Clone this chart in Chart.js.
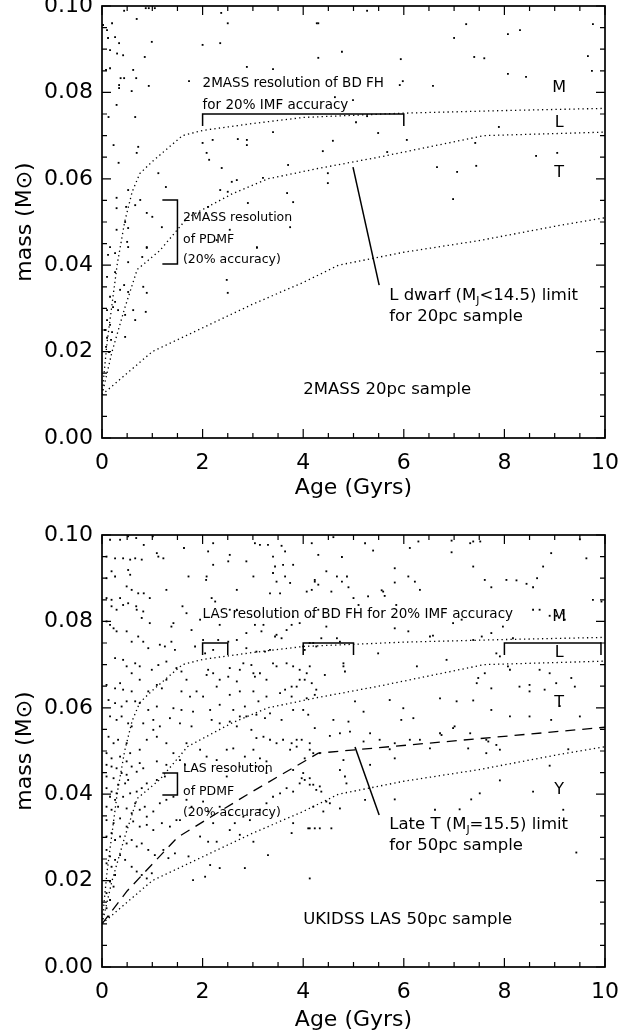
<!DOCTYPE html>
<html>
<head>
<meta charset="utf-8">
<script src="https://cdn.jsdelivr.net/npm/chart.js@4.4.1/dist/chart.umd.min.js"></script>
<style>
body{margin:0;background:#fff}
canvas{display:block}
</style>
</head>
<body>
<canvas id="top" width="625" height="515"></canvas>
<canvas id="bottom" width="625" height="516"></canvas>
<script>
// axis ticks
const ageTicks = [0, 2, 4, 6, 8, 10]
const massTicks = [0, 0.02, 0.04, 0.06, 0.08, 0.10]

// spectral-type boundary curves (age in Gyr, mass in Msun)
const mlAge  = [0, 0.05, 0.1, 0.2, 0.3, 0.45, 0.6, 0.75, 1.0, 1.6, 2.0, 3.0, 4.0, 6.0, 8.0, 10.0]
const mlMass = [0.010, 0.016, 0.022, 0.031, 0.040, 0.050, 0.057, 0.0612, 0.064, 0.070, 0.0712, 0.0728, 0.0742, 0.0752, 0.0758, 0.0763]
const ltAge  = [0, 0.1, 0.2, 0.45, 0.7, 1.15, 1.7, 2.6, 3.3, 4.3, 5.5, 7.6, 10]
const ltMass = [0.010, 0.015, 0.020, 0.030, 0.039, 0.0434, 0.051, 0.0566, 0.060, 0.0624, 0.065, 0.070, 0.0708]
const tyAge  = [0, 1.0, 2.0, 3.0, 4.0, 4.7, 6.0, 7.5, 9.0, 10]
const tyMass = [0.010, 0.020, 0.0255, 0.031, 0.036, 0.040, 0.043, 0.0457, 0.049, 0.051]

// late T (MJ=15.5) limit for the LAS 50pc sample
const lateTAge  = [0, 0.5, 1.5, 2.9, 4.3, 10]
const lateTMass = [0.010, 0.0176, 0.030, 0.040, 0.0495, 0.0555]

// simulated objects, 2MASS 20pc sample [age, mass]
const sample2mass = [
[0.02,0.0956],[0.2,0.096],[0.44,0.0989],[0.69,0.097],[0.87,0.0995],[0.93,0.0995],[1.05,0.0995],[0.1,0.0944],[0.12,0.0926],[0.26,0.0928],
[0.34,0.0914],[0.99,0.0917],[0.16,0.0898],[0.3,0.089],[0.42,0.0886],[0.85,0.0882],[0.08,0.0852],[0.16,0.0856],[0.62,0.0852],[0.37,0.0833],
[0.44,0.0833],[0.34,0.0817],[0.34,0.081],[0.59,0.0803],[0.68,0.0833],[0.93,0.0815],[0.29,0.0771],[0.13,0.0743],[0.66,0.0743],[0.23,0.0678],
[0.72,0.0674],[0.69,0.066],[0.33,0.0637],[1.12,0.0613],[0.29,0.0556],[0.52,0.0574],[0.76,0.0551],[1.27,0.0581],[0.29,0.0532],[0.48,0.0535],
[0.66,0.0539],[0.46,0.05],[0.89,0.0521],[1.0,0.0512],[1.19,0.0488],[0.29,0.0482],[0.52,0.0486],[0.16,0.0442],[0.5,0.0454],[0.89,0.044],
[2.0,0.091],[2.35,0.0914],[2.37,0.0984],[2.5,0.096],[1.73,0.0826],[2.88,0.0859],[3.4,0.0854],[4.3,0.096],[4.3,0.088],[2.0,0.0683],
[2.08,0.066],[2.13,0.0644],[2.2,0.069],[2.7,0.0692],[2.88,0.069],[2.88,0.0678],[3.4,0.0708],[2.38,0.0625],[2.58,0.0593],[2.68,0.0597],
[2.35,0.0574],[2.5,0.057],[3.2,0.0602],[3.7,0.0632],[3.68,0.0567],[3.8,0.0546],[2.9,0.0544],[2.11,0.0535],[3.74,0.0488],[2.54,0.0482],
[3.08,0.044],[2.28,0.0458],
[0.12,0.0424],[0.26,0.0428],[0.52,0.0442],[0.52,0.0407],[0.89,0.0442],[0.8,0.0419],[0.26,0.0384],[0.1,0.0373],[0.44,0.0354],[0.36,0.0343],
[0.52,0.0338],[0.82,0.035],[0.89,0.0336],[0.16,0.0327],[0.26,0.0315],[0.22,0.0303],[0.1,0.0296],[0.32,0.0296],[0.46,0.0285],[0.62,0.0296],
[0.66,0.0273],[0.87,0.0292],[0.1,0.0273],[0.16,0.0262],[0.06,0.025],[0.2,0.0245],[0.46,0.0234],[0.1,0.0232],[0.18,0.0227],[0.08,0.0211],
[0.14,0.0199],[2.48,0.0366],[2.5,0.0336],[3.08,0.0442],
[4.27,0.096],[5.27,0.0989],[4.77,0.0894],[5.94,0.0877],[7.0,0.0926],[7.24,0.0958],[7.4,0.0882],[7.6,0.0879],[8.07,0.0935],[8.31,0.0944],
[8.07,0.0843],[8.43,0.0836],[9.76,0.0958],[9.66,0.0884],[9.74,0.085],[5.92,0.0817],[5.98,0.0826],[6.58,0.0815],[4.99,0.0782],[4.63,0.0789],
[5.27,0.0745],[5.05,0.0731],[5.49,0.0706],[4.59,0.0688],[4.39,0.0664],[6.06,0.069],[5.67,0.0662],[7.89,0.072],[7.42,0.0683],[8.63,0.0653],
[9.05,0.066],[4.49,0.0613],[4.49,0.059],[6.66,0.0627],[7.06,0.0616],[7.44,0.063],[6.98,0.0553]
]

// simulated objects, UKIDSS LAS 50pc sample [age, mass]
const sampleLas = [
[0.16,0.0989],[0.36,0.0989],[0.52,0.0997],[0.68,0.0993],[0.83,0.0977],[1.01,0.0997],[1.09,0.0958],[1.22,0.0946],[1.63,0.097],[2.11,0.0962],
[2.21,0.0931],[2.21,0.0981],[2.54,0.0954],[2.51,0.0939],[2.87,0.0939],[3.04,0.0981],[3.14,0.0977],[3.3,0.0977],[3.4,0.095],[3.57,0.0975],
[3.64,0.0962],[3.8,0.0931],[3.6,0.0931],[3.44,0.0927],[4.17,0.0981],[0.09,0.095],[0.26,0.0946],[0.42,0.0946],[0.56,0.0943],[0.66,0.0946],
[0.79,0.0943],[1.12,0.095],[0.19,0.0916],[0.52,0.0919],[0.56,0.0908],[0.26,0.0904],[0.09,0.09],[0.49,0.0881],[0.59,0.0873],[0.72,0.0865],
[0.83,0.0865],[0.95,0.0854],[1.28,0.0873],[1.72,0.0904],[2.08,0.0904],[2.07,0.0896],[2.68,0.0873],[3.01,0.0904],[3.4,0.0912],[3.64,0.0904],
[3.47,0.0892],[3.74,0.0889],[4.23,0.0892],[4.17,0.0873],[3.34,0.0865],[3.54,0.0865],[0.09,0.0854],[0.19,0.085],[0.36,0.0854],[0.19,0.0835],
[0.29,0.0827],[0.42,0.0838],[0.52,0.0842],[0.68,0.0835],[0.69,0.0827],[0.79,0.0808],[0.82,0.0823],[0.95,0.0796],[1.42,0.0796],[1.38,0.0788],
[1.6,0.0835],[1.68,0.0819],[1.78,0.078],[1.95,0.0804],[2.18,0.0854],[2.25,0.0846],[2.54,0.0827],[2.34,0.0792],[2.68,0.0827],[2.87,0.0773],
[3.04,0.0792],[3.17,0.0777],[3.21,0.0792],[3.44,0.0765],[3.47,0.0769],[3.57,0.0761],[3.67,0.078],[3.77,0.0792],[3.8,0.0811],[3.93,0.0796],
[4.2,0.0811],[4.3,0.0827],[0.09,0.08],[0.16,0.0792],[0.23,0.0784],[0.29,0.0777],[0.49,0.0777],[0.59,0.0753],[0.72,0.0765],[0.82,0.0753],
[0.92,0.0738],[1.15,0.0746],[1.25,0.0742],[1.38,0.0753],[1.85,0.0742],[2.01,0.0757],[2.05,0.0726],[2.21,0.0734],[2.31,0.0757],[2.51,0.0753],
[2.68,0.0757],[2.87,0.0738],[3.07,0.073],[3.24,0.073],[3.34,0.0734],[3.67,0.0703],[3.8,0.0696],[3.93,0.0688],[4.03,0.0734],[4.13,0.075],
[4.26,0.0742],[0.26,0.0715],[0.42,0.0711],[0.49,0.0696],[0.59,0.068],[0.66,0.0703],[0.75,0.0696],[0.99,0.0688],[1.12,0.0699],[1.28,0.0707],
[1.28,0.0665],[1.45,0.0734],[1.58,0.0684],[1.48,0.0692],[1.68,0.0665],[2.08,0.0676],[2.11,0.0688],[2.21,0.068],[2.34,0.0665],[2.51,0.0672],
[2.54,0.0692],[2.68,0.0661],[2.74,0.0688],[2.81,0.0703],[2.97,0.0699],[3.01,0.068],[3.04,0.0672],[3.14,0.068],[3.27,0.0665],[3.4,0.0703],
[3.47,0.0696],[3.77,0.0649],[3.87,0.0649],[3.93,0.0665],[4.17,0.0657],[4.26,0.0642],[0.09,0.0653],[0.26,0.0645],[0.36,0.0657],[0.42,0.0642],
[0.59,0.0638],[0.75,0.0665],[0.92,0.0638],[1.09,0.0653],[1.19,0.0645],[1.58,0.0638],[1.75,0.0626],[1.88,0.0638],[2.01,0.0626],[2.28,0.0649],
[2.54,0.063],[2.74,0.0638],[2.84,0.0603],[3.01,0.0638],[3.11,0.0615],[3.27,0.0626],[3.54,0.0634],[3.64,0.0642],[3.77,0.0626],[4.07,0.0622],
[4.23,0.063],[0.13,0.0618],[0.26,0.0611],[0.39,0.0603],[0.49,0.0615],[0.66,0.0615],[0.75,0.0611],[0.92,0.0595],[1.09,0.0603],[1.42,0.0599],
[1.58,0.0595],[1.81,0.0591],[2.15,0.0595],[2.34,0.0607],[2.61,0.0595],[2.87,0.058],[3.07,0.0584],[3.24,0.0576],[3.34,0.0587],[3.57,0.0572],
[3.8,0.0595],[4.0,0.0595],[0.16,0.058],[0.29,0.0572],[0.39,0.058],[0.52,0.0564],[0.59,0.0557],[0.82,0.0564],[1.02,0.0572],[1.02,0.0549],
[1.15,0.0557],[1.35,0.0576],[1.55,0.0564],[1.78,0.0557],[2.18,0.0572],[2.34,0.0564],[2.54,0.0568],[2.68,0.0557],[2.74,0.058],[2.97,0.0549],
[3.07,0.053],[3.21,0.0533],[3.34,0.0526],[3.47,0.0518],[3.6,0.0526],[3.77,0.0518],[3.87,0.0526],[3.97,0.0526],[4.13,0.0518],[0.13,0.0533],
[0.23,0.0518],[0.32,0.0526],[0.49,0.0518],[0.56,0.0495],[0.75,0.0503],[0.89,0.0526],[1.09,0.0533],[1.28,0.0518],[1.42,0.0495],[1.68,0.0518],
[1.95,0.0503],[2.08,0.0487],[2.28,0.0479],[2.48,0.0503],[2.61,0.0506],[2.84,0.0487],[3.01,0.0503],[3.14,0.0483],[3.27,0.0476],[3.74,0.0503],
[3.87,0.051],[4.03,0.0483],[4.2,0.0495],[0.09,0.0495],[0.19,0.0483],[0.36,0.0487],[0.49,0.0476],[0.75,0.0472],[1.09,0.0476],[1.28,0.0468],
[1.55,0.0479],[1.65,0.0468],
[4.6,0.0995],[5.23,0.0981],[5.39,0.0964],[6.12,0.097],[6.29,0.0985],[6.95,0.0987],[6.95,0.096],[7.32,0.0981],[7.38,0.0985],[7.52,0.0985],
[8.93,0.0958],[9.5,0.099],[9.63,0.0946],[4.3,0.0954],[4.77,0.0949],[5.82,0.0923],[7.38,0.0927],[8.77,0.0927],[4.46,0.0916],[4.67,0.0904],
[4.87,0.0904],[4.77,0.0892],[4.9,0.0879],[4.23,0.0896],[4.3,0.0885],[4.07,0.0869],[4.56,0.0869],[5.82,0.089],[6.09,0.0904],[6.22,0.0892],
[5.59,0.0869],[5.62,0.0859],[5.29,0.0858],[5.56,0.0872],[6.32,0.0873],[7.61,0.0896],[7.74,0.0879],[8.04,0.0896],[8.24,0.0895],[8.44,0.0887],
[8.57,0.0879],[8.65,0.09],[9.76,0.085],[9.93,0.0846],[5.0,0.0854],[5.85,0.0838],[5.1,0.0838],[7.15,0.0804],[6.98,0.0796],[7.74,0.0773],
[7.97,0.0788],[8.17,0.0761],[8.57,0.0827],[8.7,0.0827],[8.9,0.0813],[9.03,0.0813],[9.17,0.0818],[9.2,0.0804],[7.38,0.0757],[7.55,0.0765],
[6.58,0.0767],[6.52,0.0765],[6.09,0.0777],[5.82,0.0784],[4.46,0.0788],[4.67,0.0761],[4.73,0.0753],[4.36,0.0761],[4.2,0.075],[4.0,0.0742],
[5.49,0.0726],[6.85,0.0711],[6.26,0.0696],[4.8,0.0696],[4.83,0.0684],[4.8,0.0703],[4.43,0.0676],[4.07,0.068],[4.13,0.0696],[4.03,0.0665],
[7.48,0.0669],[7.45,0.0657],[7.74,0.0645],[7.61,0.068],[7.84,0.0726],[7.91,0.0719],[8.07,0.0696],[8.11,0.0688],[8.7,0.0688],[8.9,0.068],
[9.03,0.0657],[9.33,0.0669],[9.4,0.0649],[8.3,0.0649],[8.5,0.0653],[8.5,0.0638],[8.8,0.0642],[9.1,0.0604],[5.03,0.0615],[5.72,0.0618],
[5.99,0.0599],[6.19,0.0576],[6.72,0.0622],[7.05,0.0615],[7.38,0.0617],[7.74,0.0595],[8.11,0.058],[8.5,0.058],[8.93,0.0572],[9.5,0.058],
[4.1,0.0584],[4.23,0.0553],[4.53,0.0535],[4.6,0.0572],[4.73,0.0541],[4.9,0.0568],[4.93,0.0545],[5.2,0.0591],[5.33,0.0541],[5.52,0.0526],
[5.82,0.0518],[5.95,0.0572],[6.12,0.0526],[6.32,0.0526],[6.52,0.0506],[6.72,0.0541],[6.75,0.0537],[6.98,0.0553],[7.01,0.0557],[7.28,0.0506],
[7.32,0.0541],[7.64,0.0526],[7.68,0.0522],[7.84,0.0514],[7.64,0.0495],[7.91,0.0503],[9.27,0.0504],[4.13,0.0503],[4.33,0.0495],[4.8,0.0479],
[5.2,0.0522],[5.72,0.0504],[5.82,0.0483],
[0.09,0.0468],[0.19,0.0464],[0.29,0.046],[0.39,0.0449],[0.49,0.0445],[0.59,0.0464],[0.69,0.0452],[0.82,0.046],[0.09,0.0441],[0.23,0.0437],
[0.32,0.0422],[0.46,0.0425],[0.52,0.0433],[0.09,0.0414],[0.19,0.0406],[0.29,0.0402],[0.16,0.0394],[0.26,0.0387],[0.42,0.0394],[0.56,0.0402],
[0.69,0.0406],[0.79,0.0414],[0.89,0.0425],[1.09,0.0433],[1.25,0.0441],[0.09,0.0371],[0.19,0.0364],[0.32,0.0371],[0.49,0.0367],[0.59,0.0356],
[0.66,0.0379],[0.75,0.0364],[0.85,0.0371],[0.89,0.0348],[1.02,0.036],[1.15,0.0379],[1.28,0.0387],[1.42,0.0394],[0.09,0.034],[0.23,0.0333],
[0.36,0.0344],[0.49,0.0325],[0.62,0.0337],[0.75,0.0325],[0.89,0.0329],[1.02,0.0317],[1.19,0.0333],[1.35,0.0325],[1.48,0.034],[0.09,0.0302],
[0.19,0.031],[0.26,0.0294],[0.36,0.0302],[0.49,0.0286],[0.59,0.0294],[0.69,0.0279],[0.79,0.0286],[0.92,0.0271],[1.05,0.0259],[1.22,0.0271],
[1.32,0.0252],[1.45,0.0263],[0.09,0.0271],[0.16,0.0256],[0.26,0.0248],[0.36,0.0259],[0.46,0.0248],[0.59,0.0232],[0.69,0.0221],[0.79,0.0213],
[0.89,0.0205],[0.99,0.0217],[0.09,0.024],[0.19,0.0232],[0.26,0.0213],[0.16,0.0198],[0.23,0.0186],[0.09,0.0171],[0.16,0.0155],[0.09,0.0136],
[0.13,0.0117],[1.68,0.0387],[1.78,0.0371],[2.01,0.0383],[2.11,0.036],[2.34,0.0371],[2.54,0.0352],[2.64,0.0333],[2.81,0.0348],[2.94,0.034],
[3.14,0.0364],[3.27,0.0379],[3.4,0.0394],[3.54,0.0402],[3.67,0.0414],[3.8,0.0406],[3.93,0.0425],[4.03,0.0433],[4.13,0.0422],[4.26,0.041],
[1.95,0.0302],[2.11,0.029],[2.28,0.029],[2.54,0.0317],[2.74,0.0306],[3.01,0.029],[3.3,0.0259],[2.15,0.0236],[2.34,0.0229],[2.84,0.0229],
[1.81,0.0201],[2.05,0.0209],[1.72,0.0256],[3.77,0.031],[4.13,0.0321],[4.23,0.0321],[4.13,0.0205],[4.2,0.0371],[3.8,0.0456],[3.97,0.0437],
[3.07,0.0464],[3.27,0.0449],[2.74,0.0464],[2.48,0.0441],[1.55,0.034],[2.21,0.0333],[3.8,0.0333],
[4.0,0.0449],[4.13,0.0437],[4.2,0.0422],[4.33,0.0418],[4.36,0.0406],[4.4,0.036],[4.46,0.0383],[4.53,0.0379],[4.73,0.0367],[4.1,0.0321],
[4.33,0.0321],[4.56,0.0321],[4.83,0.0441],[4.73,0.0456],[4.86,0.0425],[5.23,0.0387],[5.33,0.0468],[5.82,0.0388],[6.62,0.0364],[7.11,0.0365],
[7.34,0.0388],[7.51,0.0402],[7.91,0.0432],[8.57,0.0406],[8.9,0.0466],[9.17,0.0364],[9.43,0.0265]
]

// resolution brackets and pointer lines [age, mass]
const topImfBracket = [[2, 0.0722], [2, 0.075], [6, 0.075], [6, 0.0722]]
const topPdmfBracket = [[1.2, 0.0551], [1.5, 0.0551], [1.5, 0.0403], [1.2, 0.0403]]
const topPointer = [[4.99, 0.0627], [5.51, 0.0354]]
const lasImfBrackets = [
  [[2, 0.0722], [2, 0.075], [2.5, 0.075], [2.5, 0.0722]],
  [[4, 0.0722], [4, 0.075], [5, 0.075], [5, 0.0722]],
  [[8, 0.0722], [8, 0.075], [9.92, 0.075], [9.92, 0.0722]]
]
const lasPdmfBracket = [[1.2, 0.0449], [1.5, 0.0449], [1.5, 0.0398], [1.2, 0.0398]]
const lasPointer = [[5.03, 0.0509], [5.51, 0.0352]]

// text notes: parts are [text, subscript?]
const topNotes = [
  {parts: [['2MASS resolution of BD FH']], x: 2.0, y: 0.0820, size: 13.5},
  {parts: [['for 20% IMF accuracy']], x: 2.0, y: 0.0769, size: 13.5},
  {parts: [['M']], x: 9.09, y: 0.0810, size: 16, center: true},
  {parts: [['L']], x: 9.09, y: 0.0729, size: 16, center: true},
  {parts: [['T']], x: 9.09, y: 0.0613, size: 16, center: true},
  {parts: [['2MASS resolution']], x: 1.61, y: 0.0509, size: 12.5},
  {parts: [['of PDMF']], x: 1.61, y: 0.0458, size: 12.5},
  {parts: [['(20% accuracy)']], x: 1.61, y: 0.0413, size: 12.5},
  {parts: [['L dwarf (M'], ['J', 1], ['<14.5) limit']], x: 5.71, y: 0.0329, size: 16.5},
  {parts: [['for 20pc sample']], x: 5.71, y: 0.0280, size: 16.5},
  {parts: [['2MASS 20pc sample']], x: 4.0, y: 0.0111, size: 16.5}
]
const lasNotes = [
  {parts: [['LAS resolution of BD FH for 20% IMF accuracy']], x: 2.0, y: 0.0817, size: 13.5},
  {parts: [['M']], x: 9.09, y: 0.0810, size: 16, center: true},
  {parts: [['L']], x: 9.09, y: 0.0727, size: 16, center: true},
  {parts: [['T']], x: 9.09, y: 0.0611, size: 16, center: true},
  {parts: [['Y']], x: 9.09, y: 0.0410, size: 16, center: true},
  {parts: [['LAS resolution']], x: 1.61, y: 0.0458, size: 12.5},
  {parts: [['of PDMF']], x: 1.61, y: 0.0405, size: 12.5},
  {parts: [['(20% accuracy)']], x: 1.61, y: 0.0357, size: 12.5},
  {parts: [['Late T (M'], ['J', 1], ['=15.5) limit']], x: 5.71, y: 0.0329, size: 16.5},
  {parts: [['for 50pc sample']], x: 5.71, y: 0.0280, size: 16.5},
  {parts: [['UKIDSS LAS 50pc sample']], x: 4.0, y: 0.0109, size: 16.5}
]

const FONT = '"DejaVu Sans", sans-serif'

function xy(ages, masses){
  return ages.map((a, i) => ({x: a, y: masses[i]}))
}
function pts(pairs){
  return pairs.map(p => ({x: p[0], y: p[1]}))
}

function dotted(data){
  return {data: data, showLine: true, borderColor: '#000', borderWidth: 1.3,
    borderDash: [1.3, 3.2], pointRadius: 0, tension: 0}
}
function solid(data){
  return {data: data, showLine: true, borderColor: '#000', borderWidth: 1.5,
    pointRadius: 0, tension: 0}
}

const framePlugin = {
  id: 'frame',
  afterDatasetsDraw(chart){
    const ctx = chart.ctx
    const a = chart.chartArea
    const sx = chart.scales.x, sy = chart.scales.y
    ctx.save()
    ctx.strokeStyle = '#000'
    ctx.lineWidth = 1.2
    ctx.beginPath()
    for(let i = 0; i <= 20; i++){
      const px = sx.getPixelForValue(i * 0.5)
      const len = i % 4 === 0 ? 9 : 5
      ctx.moveTo(px, a.bottom); ctx.lineTo(px, a.bottom - len)
      ctx.moveTo(px, a.top); ctx.lineTo(px, a.top + len)
    }
    for(let i = 0; i <= 20; i++){
      const py = sy.getPixelForValue(i * 0.005)
      const len = i % 4 === 0 ? 9 : 5
      ctx.moveTo(a.left, py); ctx.lineTo(a.left + len, py)
      ctx.moveTo(a.right, py); ctx.lineTo(a.right - len, py)
    }
    ctx.stroke()
    ctx.lineWidth = 1.7
    ctx.strokeRect(a.left, a.top, a.right - a.left, a.bottom - a.top)
    ctx.restore()
  }
}

function notesPlugin(notes){
  return {
    id: 'notes',
    afterDraw(chart){
      const ctx = chart.ctx
      const sx = chart.scales.x, sy = chart.scales.y
      ctx.save()
      ctx.fillStyle = '#000'
      ctx.textBaseline = 'middle'
      for(const n of notes){
        let px = sx.getPixelForValue(n.x)
        const py = sy.getPixelForValue(n.y)
        const widths = n.parts.map(p => {
          ctx.font = (p[1] ? n.size * 0.65 : n.size) + 'px ' + FONT
          return ctx.measureText(p[0]).width
        })
        if(n.center) px -= widths.reduce((s, w) => s + w, 0) / 2
        n.parts.forEach((p, i) => {
          ctx.font = (p[1] ? n.size * 0.65 : n.size) + 'px ' + FONT
          ctx.fillText(p[0], px, p[1] ? py + n.size * 0.3 : py)
          px += widths[i]
        })
      }
      ctx.restore()
    }
  }
}

function makePanel(id, cfg){
  const datasets = [
    {data: pts(cfg.sample), pointStyle: 'rect', pointRadius: 1.3, pointBackgroundColor: '#000',
      pointBorderWidth: 0, showLine: false},
    dotted(xy(mlAge, mlMass)),
    dotted(xy(ltAge, ltMass)),
    dotted(xy(tyAge, tyMass))
  ]
  if(cfg.dashed){
    datasets.push({data: xy(lateTAge, lateTMass), showLine: true, borderColor: '#000', borderWidth: 1.3,
      borderDash: [10, 7], pointRadius: 0, tension: 0})
  }
  cfg.brackets.forEach(b => datasets.push(solid(pts(b))))

  new Chart(document.getElementById(id), {
    type: 'scatter',
    data: {datasets: datasets},
    options: {
      responsive: false,
      animation: false,
      layout: {padding: {top: cfg.padTop, right: 20, left: 0, bottom: 0}},
      plugins: {legend: {display: false}, tooltip: {enabled: false}},
      scales: {
        x: {
          type: 'linear', min: 0, max: 10,
          afterFit: s => { s.height = cfg.xHeight; s.paddingLeft = 0; s.paddingRight = 0 },
          afterBuildTicks: s => { s.ticks = ageTicks.map(v => ({value: v})) },
          grid: {display: false, drawTicks: false},
          border: {display: false},
          ticks: {color: '#000', font: {family: FONT, size: 22}, padding: 12, maxRotation: 0,
            callback: v => String(v)},
          title: {display: true, text: 'Age (Gyrs)', color: '#000',
            font: {family: FONT, size: 22, lineHeight: 1}, padding: {top: 0, bottom: cfg.titlePad}}
        },
        y: {
          type: 'linear', min: 0, max: 0.1,
          afterFit: s => { s.width = 102; s.paddingTop = 0; s.paddingBottom = 0 },
          afterBuildTicks: s => { s.ticks = massTicks.map(v => ({value: v})) },
          grid: {display: false, drawTicks: false},
          border: {display: false},
          ticks: {color: '#000', font: {family: FONT, size: 22}, padding: 9,
            callback: v => v.toFixed(2)},
          title: {display: true, text: 'mass (M\u2299)', color: '#000',
            font: {family: FONT, size: 22, lineHeight: 1}, padding: {top: 14, bottom: 0}}
        }
      }
    },
    plugins: [framePlugin, notesPlugin(cfg.notes)]
  })
}

makePanel('top', {
  sample: sample2mass, dashed: false,
  brackets: [topImfBracket, topPdmfBracket, topPointer],
  notes: topNotes, padTop: 6, xHeight: 77, titlePad: 16
})

makePanel('bottom', {
  sample: sampleLas, dashed: true,
  brackets: lasImfBrackets.concat([lasPdmfBracket, lasPointer]),
  notes: lasNotes, padTop: 20, xHeight: 64, titlePad: 0
})
</script>
</body>
</html>
